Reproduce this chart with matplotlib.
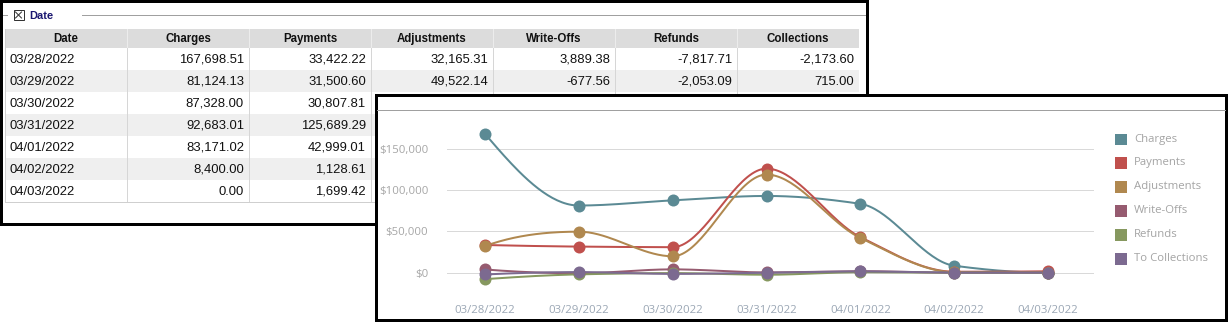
import numpy as np
import matplotlib
matplotlib.use('Agg')
import matplotlib.pyplot as plt
from matplotlib.patches import Rectangle

# ---------------- data ----------------
dates = ['03/28/2022', '03/29/2022', '03/30/2022', '03/31/2022',
         '04/01/2022', '04/02/2022', '04/03/2022']
charges = [167698.51, 81124.13, 87328.00, 92683.01, 83171.02, 8400.00, 0.00]
payments = [33422.22, 31500.60, 30807.81, 125689.29, 42999.01, 1128.61, 1699.42]
adjustments = [32165.31, 49522.14, 19800.00, 118500.00, 42000.00, 600.00, 0.00]
write_offs = [3889.38, -677.56, 4000.00, 300.00, 1800.00, 0.00, 0.00]
refunds = [-7817.71, -2053.09, -500.00, -2500.00, 500.00, 0.00, 0.00]
collections = [-2173.60, 715.00, -1500.00, 0.00, 1500.00, 0.00, 0.00]

table_columns = ['Date', 'Charges', 'Payments', 'Adjustments', 'Write-Offs', 'Refunds', 'Collections']
series_names = ['Charges', 'Payments', 'Adjustments', 'Write-Offs', 'Refunds', 'To Collections']
series_colors = ['#5b8a94', '#c0504d', '#b0884f', '#965b70', '#86985f', '#7c6a90']
y_ticks = [0, 50000, 100000, 150000]
y_tick_labels = ['$0', '$50,000', '$100,000', '$150,000']
group_title = 'Date'

series_values = [charges, payments, adjustments, write_offs, refunds, collections]

# ---------------- helpers ----------------
W, H = 1232, 322
PX = 0.72  # points per pixel at dpi 100


def pchip_curve(y, n=40):
    y = np.asarray(y, float)
    x = np.arange(len(y), dtype=float)
    d = np.diff(y)
    m = np.zeros_like(y)
    for i in range(1, len(y) - 1):
        if d[i - 1] * d[i] > 0:
            m[i] = 2.0 / (1.0 / d[i - 1] + 1.0 / d[i])
    # endpoints
    def endp(d0, d1):
        v = (3 * d0 - d1) / 2.0
        if np.sign(v) != np.sign(d0):
            return 0.0
        if np.sign(d0) != np.sign(d1) and abs(v) > abs(3 * d0):
            return 3 * d0
        return v
    if len(y) > 2:
        m[0] = endp(d[0], d[1])
        m[-1] = endp(d[-1], d[-2])
    xs, ys = [], []
    for i in range(len(y) - 1):
        t = np.linspace(0, 1, n)
        h00 = 2 * t**3 - 3 * t**2 + 1
        h10 = t**3 - 2 * t**2 + t
        h01 = -2 * t**3 + 3 * t**2
        h11 = t**3 - t**2
        ys.append(h00 * y[i] + h10 * m[i] + h01 * y[i + 1] + h11 * m[i + 1])
        xs.append(x[i] + t)
    return np.concatenate(xs), np.concatenate(ys)


def fmt(v):
    return f'{v:,.2f}'


# ---------------- figure ----------------
fig = plt.figure(figsize=(W / 100, H / 100), dpi=100)
bg = fig.add_axes([0, 0, 1, 1])
bg.set_xlim(0, W)
bg.set_ylim(H, 0)
bg.axis('off')

TFONT = 'Liberation Sans'

# table panel
bg.add_patch(Rectangle((0, 0), W, H, fc='white', ec='none', zorder=0))
bg.plot([2, 7], [15, 15], color='#a0a0a0', lw=1 * PX, zorder=2)
bg.add_patch(Rectangle((13.5, 10), 10, 10, fc='white', ec='#333333', lw=1 * PX, zorder=2))
bg.plot([15.5, 21.5], [12, 18], color='#333333', lw=1 * PX, zorder=3)
bg.plot([15.5, 21.5], [18, 12], color='#333333', lw=1 * PX, zorder=3)
bg.text(29, 15.5, group_title, fontsize=7.9, fontweight='bold', color='#1a1670',
        family=TFONT, va='center', ha='left', zorder=3)
bg.plot([82, 865], [15, 15], color='#a0a0a0', lw=1 * PX, zorder=2)

col_edges = [5, 127, 249, 371, 493, 615, 737, 859]
header_top, header_bot = 29, 48
row_h = 22
bg.add_patch(Rectangle((col_edges[0], header_top), col_edges[-1] - col_edges[0],
                       header_bot - header_top, fc='#dcdcdc', ec='none', zorder=1))
for i in range(len(dates)):
    y0 = header_bot + row_h * i
    fc = '#efefef' if i % 2 == 1 else 'white'
    bg.add_patch(Rectangle((col_edges[0], y0), col_edges[-1] - col_edges[0], row_h,
                           fc=fc, ec='none', zorder=1))
table_bottom = header_bot + row_h * len(dates)
for xe in col_edges[1:-1]:
    bg.plot([xe, xe], [header_top, header_bot], color='#ececec', lw=1 * PX, zorder=2)
    bg.plot([xe, xe], [header_bot, table_bottom], color='#d6d6d6', lw=1 * PX, zorder=2)
bg.plot([col_edges[0], col_edges[0]], [header_top, table_bottom], color='#cfcfcf', lw=1 * PX, zorder=2)
bg.plot([col_edges[0], col_edges[-1]], [table_bottom, table_bottom], color='#cfcfcf', lw=1 * PX, zorder=2)

for j, name in enumerate(table_columns):
    cx = (col_edges[j] + col_edges[j + 1]) / 2
    bg.text(cx, (header_top + header_bot) / 2 + 0.5, name, fontsize=8.3, fontweight='bold',
            color='#111111', family=TFONT, ha='center', va='center', zorder=3)

table_cols_data = [charges, payments, adjustments, write_offs, refunds, collections]
for i, d in enumerate(dates):
    yc = header_bot + row_h * i + row_h / 2 + 0.5
    bg.text(col_edges[0] + 4, yc, d, fontsize=9.4, color='#111111', family=TFONT,
            ha='left', va='center', zorder=3)
    for j, col in enumerate(table_cols_data):
        bg.text(col_edges[j + 2] - 5, yc, fmt(col[i]), fontsize=9.4, color='#111111',
                family=TFONT, ha='right', va='center', zorder=3)

bg.add_patch(Rectangle((1, 1), 865.5, 223, fc='none', ec='black', lw=3 * PX, zorder=4))

# chart panel (drawn over the table)
bg.add_patch(Rectangle((375.5, 95.3), 1226.3 - 375.5, 319.7 - 95.3, fc='white', ec='black',
                       lw=3 * PX, zorder=10))
bg.plot([377, 1225], [109.5, 109.5], color='#a0a0a0', lw=1 * PX, zorder=11)

CFONT = 'Open Sans'
# legend
for k, (name, color) in enumerate(zip(series_names, series_colors)):
    yc = 139 + 23.9 * k
    bg.add_patch(Rectangle((1115, yc - 5.5), 11.5, 11.5, fc=color, ec='none', zorder=12))
    bg.text(1134, yc, name, fontsize=8.2, color='#a4a4a4', family=CFONT,
            ha='left', va='center', zorder=12)

# chart axes
y_bot_px, y_top_px = 297.5, 115.4
x_left_px, x_right_px = 447, 1094
ax = fig.add_axes([x_left_px / W, 1 - y_bot_px / H, (x_right_px - x_left_px) / W,
                   (y_bot_px - y_top_px) / H])
ax.patch.set_alpha(0)
ax.set_ylim(-30000, 190000)
ax.set_xlim(-0.405, 6.49)
for s in ax.spines.values():
    s.set_visible(False)
ax.set_yticks(y_ticks)
ax.set_yticklabels(y_tick_labels, family=CFONT, fontsize=8.2, color='#a6a6a6')
ax.set_xticks(range(len(dates)))
ax.set_xticklabels(dates, family=CFONT, fontsize=8.2, color='#9ba7b5')
ax.tick_params(axis='y', length=0, pad=13.5)
ax.tick_params(axis='x', length=0, pad=5.5)
ax.grid(axis='y', color='#d9d9d9', lw=1 * PX)
ax.set_axisbelow(True)

for vals, color in zip(series_values, series_colors):
    xs, ys = pchip_curve(vals)
    ax.plot(xs, ys, color=color, lw=2 * PX, solid_capstyle='round', zorder=3)
    ax.plot(range(len(vals)), vals, 'o', color=color, markersize=12 * PX,
            markeredgewidth=0, zorder=4)

fig.savefig('out.png', dpi=100)
